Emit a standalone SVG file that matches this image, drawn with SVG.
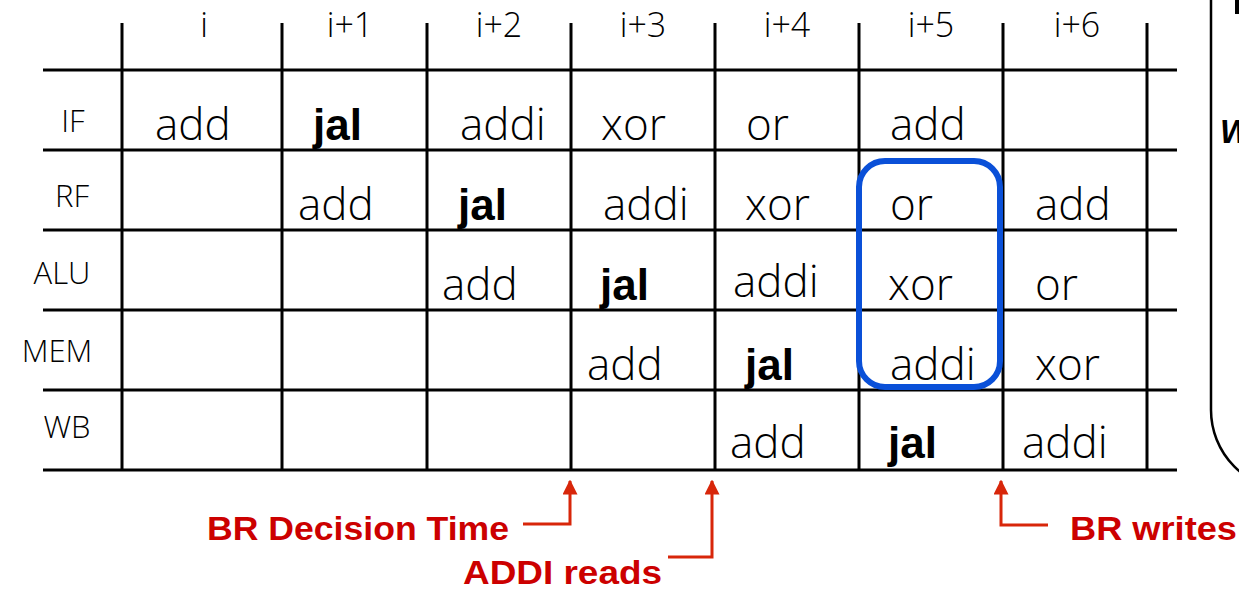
<svg xmlns="http://www.w3.org/2000/svg" width="1239" height="590" viewBox="0 0 1239 590">
<style>
.grid{stroke:#000;stroke-width:3;fill:none}
.hdr{font-family:"Open Sans","DejaVu Sans",sans-serif;font-weight:300;font-size:34px;fill:#000;text-anchor:middle}
.stage{font-family:"Open Sans","DejaVu Sans",sans-serif;font-weight:300;font-size:31px;fill:#000;text-anchor:middle}
.cell{font-family:"Open Sans","DejaVu Sans",sans-serif;font-weight:300;font-size:44px;fill:#000}
.jal{font-family:"Liberation Sans","Arial",sans-serif;font-weight:bold;font-size:44px;fill:#000}
.red{font-family:"Liberation Sans","Arial",sans-serif;font-weight:bold;font-size:34px;fill:#cc0000}
.arr{stroke:#d8260a;stroke-width:3;fill:none}
</style>
<defs>
<marker id="ah" viewBox="0 0 10 10" refX="9" refY="5" markerWidth="5" markerHeight="5" markerUnits="strokeWidth" orient="auto">
<path d="M0,0 L10,5 L0,10 Z" fill="#d8260a"/>
</marker>
</defs>
<rect width="1239" height="590" fill="#fff"/>

<g id="grid" class="grid">
<path d="M43,70H1177M43,150H1177M43,230H1177M43,310H1177M43,390H1177M43,470H1177"/>
<path d="M122,23V470M282,23V470M427,23V470M571,23V470M715,23V470M859,23V470M1003,23V470M1147,23V470"/>
</g>

<g id="headers">
<text class="hdr" x="204" y="37">i</text>
<text class="hdr" x="350" y="37">i+1</text>
<text class="hdr" x="499" y="37">i+2</text>
<text class="hdr" x="643" y="37">i+3</text>
<text class="hdr" x="787" y="37">i+4</text>
<text class="hdr" x="931" y="37">i+5</text>
<text class="hdr" x="1077" y="37">i+6</text>
</g>

<g id="stages">
<text class="stage" x="73" y="132">IF</text>
<text class="stage" x="72" y="207">RF</text>
<text class="stage" x="62" y="284">ALU</text>
<text class="stage" x="57" y="362">MEM</text>
<text class="stage" x="67" y="438">WB</text>
</g>

<g id="row-IF">
<text class="cell" x="155" y="140">add</text>
<text class="jal" x="313" y="140">jal</text>
<text class="cell" x="460" y="140">addi</text>
<text class="cell" x="601" y="140">xor</text>
<text class="cell" x="746" y="140">or</text>
<text class="cell" x="890" y="140">add</text>
</g>
<g id="row-RF">
<text class="cell" x="298" y="220">add</text>
<text class="jal" x="458" y="220">jal</text>
<text class="cell" x="603" y="220">addi</text>
<text class="cell" x="745" y="220">xor</text>
<text class="cell" x="890" y="220">or</text>
<text class="cell" x="1035" y="220">add</text>
</g>
<g id="row-ALU">
<text class="cell" x="442" y="300">add</text>
<text class="jal" x="600" y="300">jal</text>
<text class="cell" x="733" y="297">addi</text>
<text class="cell" x="888" y="300">xor</text>
<text class="cell" x="1035" y="300">or</text>
</g>
<g id="row-MEM">
<text class="cell" x="587" y="380">add</text>
<text class="jal" x="745" y="380">jal</text>
<text class="cell" x="890" y="380">addi</text>
<text class="cell" x="1035" y="380">xor</text>
</g>
<g id="row-WB">
<text class="cell" x="730" y="458">add</text>
<text class="jal" x="888" y="458">jal</text>
<text class="cell" x="1022" y="458">addi</text>
</g>

<g id="highlight">
<rect x="859" y="161" width="141" height="226" rx="26" ry="26" fill="none" stroke="#0a50d8" stroke-width="6"/>
</g>

<g id="connectors" class="arr">
<path d="M523,524H570V481" marker-end="url(#ah)"/>
<path d="M668,557H712V481" marker-end="url(#ah)"/>
<path d="M1048,525H1001V481" marker-end="url(#ah)"/>
</g>

<g id="labels">
<text class="red" x="207" y="540" textLength="302" lengthAdjust="spacingAndGlyphs">BR Decision Time</text>
<text class="red" x="463" y="584" textLength="199" lengthAdjust="spacingAndGlyphs">ADDI reads</text>
<text class="red" x="1070" y="540" textLength="167" lengthAdjust="spacingAndGlyphs">BR writes</text>
</g>

<g id="side-box">
<path d="M1211,-10V410A80,80 0 0 0 1291,490" fill="none" stroke="#000" stroke-width="2.5"/>
<rect x="1235" y="0" width="4" height="14" fill="#000"/>
<text x="1220" y="143" font-family="Liberation Sans,Arial,sans-serif" font-weight="bold" font-style="italic" font-size="33" fill="#000">W</text>
</g>
</svg>
